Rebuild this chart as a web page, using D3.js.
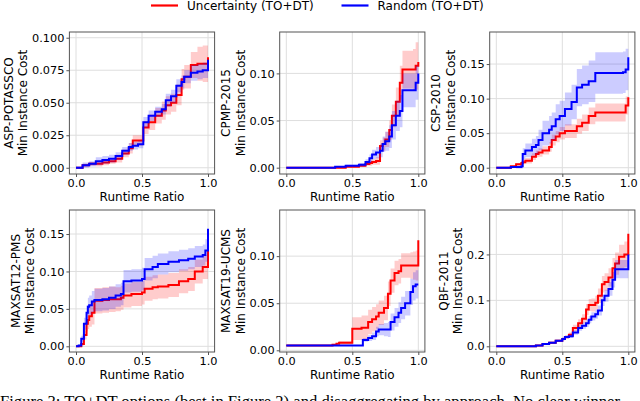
<!DOCTYPE html>
<html>
<head>
<meta charset="utf-8">
<script src="https://cdn.jsdelivr.net/npm/d3@7"></script>
<style>
body { margin: 0; background: #fff; }
svg { display: block; font-family: "DejaVu Sans", sans-serif; }
</style>
</head>
<body>
<svg id="chart" width="640" height="401"></svg>
<script>
// --- data (runtime ratio vs min instance cost) ---
const seriesNames = ["Uncertainty (TO+DT)", "Random (TO+DT)"];
const panelNames = ["ASP-POTASSCO", "CPMP-2015", "CSP-2010", "MAXSAT12-PMS", "MAXSAT19-UCMS", "QBF-2011"];
const xTicks = [0, 0.5, 1];

// ASP-POTASSCO
const aspX = [0, 0.05, 0.1, 0.15, 0.2, 0.25, 0.3, 0.35, 0.4, 0.43, 0.47, 0.51, 0.55, 0.6, 0.65, 0.68, 0.72, 0.76, 0.8, 0.82, 0.87, 0.92, 0.96, 1.0];
const aspUnc = [0, 0.002, 0.003, 0.003, 0.004, 0.005, 0.007, 0.011, 0.015, 0.021, 0.021, 0.031, 0.035, 0.040, 0.044, 0.048, 0.050, 0.056, 0.068, 0.070, 0.079, 0.080, 0.080, 0.085];
const aspUncBand = [0.0005, 0.001, 0.0015, 0.002, 0.002, 0.002, 0.003, 0.003, 0.004, 0.004, 0.004, 0.005, 0.006, 0.006, 0.007, 0.007, 0.007, 0.008, 0.008, 0.009, 0.010, 0.013, 0.014, 0.013];
const aspRnd = [0, 0.002, 0.003, 0.005, 0.006, 0.007, 0.009, 0.013, 0.016, 0.017, 0.018, 0.035, 0.040, 0.043, 0.045, 0.052, 0.055, 0.063, 0.066, 0.070, 0.073, 0.074, 0.075, 0.083];
const aspRndBand = [0.001, 0.002, 0.002, 0.003, 0.003, 0.003, 0.003, 0.003, 0.003, 0.003, 0.003, 0.004, 0.004, 0.004, 0.004, 0.005, 0.005, 0.005, 0.005, 0.005, 0.006, 0.006, 0.006, 0.006];

// CPMP-2015
const cpmpX = [0, 0.1, 0.2, 0.3, 0.37, 0.45, 0.55, 0.6, 0.63, 0.65, 0.68, 0.71, 0.73, 0.75, 0.78, 0.8, 0.83, 0.86, 0.88, 0.92, 0.96, 0.98, 1.0];
const cpmpUnc = [0, 0, 0, 0, 0, 0.001, 0.002, 0.004, 0.005, 0.006, 0.007, 0.023, 0.025, 0.03, 0.04, 0.055, 0.07, 0.09, 0.104, 0.104, 0.104, 0.108, 0.112];
const cpmpUncBand = [0, 0, 0, 0, 0, 0.0005, 0.001, 0.002, 0.003, 0.003, 0.004, 0.006, 0.007, 0.008, 0.01, 0.012, 0.015, 0.018, 0.02, 0.02, 0.022, 0.025, 0.025];
const cpmpRnd = [0, 0, 0, 0, 0.001, 0.002, 0.003, 0.006, 0.01, 0.014, 0.016, 0.018, 0.025, 0.028, 0.033, 0.045, 0.055, 0.06, 0.082, 0.082, 0.082, 0.09, 0.1];
const cpmpRndBand = [0, 0, 0, 0, 0.0005, 0.001, 0.002, 0.003, 0.004, 0.005, 0.006, 0.007, 0.008, 0.01, 0.012, 0.015, 0.016, 0.017, 0.018, 0.018, 0.018, 0.018, 0.018];

// CSP-2010
const cspX = [0, 0.11, 0.15, 0.19, 0.2, 0.22, 0.27, 0.3, 0.32, 0.35, 0.4, 0.42, 0.45, 0.48, 0.52, 0.57, 0.61, 0.65, 0.7, 0.75, 0.8, 0.9, 0.96, 0.98, 1.0];
const cspUnc = [0, 0.002, 0.005, 0.007, 0.008, 0.01, 0.016, 0.02, 0.022, 0.025, 0.03, 0.04, 0.045, 0.05, 0.053, 0.053, 0.06, 0.065, 0.075, 0.08, 0.08, 0.08, 0.08, 0.09, 0.102];
const cspUncBand = [0, 0.001, 0.002, 0.003, 0.003, 0.004, 0.005, 0.005, 0.006, 0.006, 0.007, 0.008, 0.008, 0.009, 0.01, 0.01, 0.011, 0.012, 0.012, 0.013, 0.013, 0.013, 0.013, 0.013, 0.013];
const cspRnd = [0, 0.001, 0.001, 0.002, 0.02, 0.025, 0.03, 0.033, 0.04, 0.05, 0.055, 0.06, 0.07, 0.075, 0.085, 0.095, 0.116, 0.12, 0.125, 0.137, 0.137, 0.137, 0.138, 0.142, 0.16];
const cspRndBand = [0, 0.001, 0.002, 0.003, 0.008, 0.01, 0.012, 0.013, 0.015, 0.018, 0.02, 0.02, 0.022, 0.022, 0.024, 0.025, 0.027, 0.028, 0.03, 0.03, 0.03, 0.03, 0.03, 0.03, 0.027];

// MAXSAT12-PMS
const pmsX = [0, 0.02, 0.04, 0.06, 0.08, 0.09, 0.1, 0.12, 0.14, 0.2, 0.25, 0.3, 0.34, 0.36, 0.42, 0.5, 0.52, 0.58, 0.62, 0.7, 0.78, 0.85, 0.9, 0.96, 0.98, 1.0];
const pmsUnc = [0, 0, 0.003, 0.015, 0.03, 0.035, 0.04, 0.045, 0.061, 0.062, 0.063, 0.063, 0.065, 0.068, 0.07, 0.072, 0.077, 0.079, 0.08, 0.082, 0.087, 0.09, 0.1, 0.106, 0.106, 0.13];
const pmsUncBand = [0, 0, 0.002, 0.006, 0.01, 0.012, 0.014, 0.016, 0.017, 0.017, 0.017, 0.016, 0.016, 0.016, 0.016, 0.016, 0.016, 0.016, 0.016, 0.016, 0.016, 0.016, 0.016, 0.016, 0.016, 0.017];
const pmsRnd = [0, 0.001, 0.01, 0.03, 0.045, 0.053, 0.055, 0.06, 0.062, 0.063, 0.065, 0.068, 0.07, 0.087, 0.088, 0.09, 0.103, 0.106, 0.11, 0.113, 0.115, 0.117, 0.12, 0.122, 0.128, 0.157];
const pmsRndBand = [0, 0.001, 0.004, 0.008, 0.01, 0.012, 0.013, 0.014, 0.015, 0.015, 0.015, 0.015, 0.015, 0.015, 0.015, 0.015, 0.015, 0.015, 0.014, 0.014, 0.014, 0.014, 0.014, 0.014, 0.015, 0.017];

// MAXSAT19-UCMS
const ucmsX = [0, 0.32, 0.35, 0.38, 0.4, 0.5, 0.57, 0.58, 0.62, 0.65, 0.68, 0.7, 0.74, 0.77, 0.79, 0.82, 0.85, 0.87, 0.9, 0.94, 0.96, 0.98, 1.0];
const ucmsUnc = [0.005, 0.005, 0.006, 0.007, 0.008, 0.023, 0.024, 0.024, 0.03, 0.033, 0.036, 0.04, 0.045, 0.06, 0.074, 0.082, 0.084, 0.09, 0.09, 0.09, 0.09, 0.09, 0.117];
const ucmsUncBand = [0, 0, 0.001, 0.001, 0.002, 0.012, 0.013, 0.013, 0.013, 0.013, 0.013, 0.013, 0.013, 0.013, 0.013, 0.013, 0.013, 0.013, 0.013, 0.014, 0.015, 0.016, 0.022];
const ucmsRnd = [0.005, 0.005, 0.005, 0.005, 0.005, 0.005, 0.005, 0.011, 0.013, 0.015, 0.02, 0.022, 0.022, 0.022, 0.03, 0.035, 0.04, 0.045, 0.05, 0.062, 0.068, 0.07, 0.07];
const ucmsRndBand = [0, 0, 0, 0, 0, 0, 0, 0.002, 0.003, 0.004, 0.005, 0.006, 0.007, 0.008, 0.009, 0.01, 0.011, 0.012, 0.013, 0.014, 0.015, 0.015, 0.015];

// QBF-2011
const qbfX = [0, 0.25, 0.3, 0.35, 0.4, 0.45, 0.5, 0.52, 0.55, 0.58, 0.62, 0.65, 0.68, 0.7, 0.72, 0.75, 0.77, 0.8, 0.82, 0.85, 0.88, 0.9, 0.93, 0.97, 1.0];
const qbfUnc = [0, 0, 0.002, 0.005, 0.008, 0.012, 0.016, 0.02, 0.025, 0.04, 0.05, 0.06, 0.08, 0.09, 0.09, 0.095, 0.11, 0.135, 0.14, 0.15, 0.17, 0.18, 0.195, 0.2, 0.245];
const qbfUncBand = [0, 0, 0.001, 0.001, 0.002, 0.002, 0.003, 0.004, 0.005, 0.007, 0.009, 0.01, 0.012, 0.013, 0.014, 0.015, 0.016, 0.018, 0.019, 0.02, 0.022, 0.024, 0.026, 0.028, 0.035];
const qbfRnd = [0, 0, 0.002, 0.005, 0.008, 0.012, 0.016, 0.02, 0.022, 0.03, 0.04, 0.045, 0.05, 0.058, 0.065, 0.07, 0.078, 0.1, 0.11, 0.125, 0.145, 0.168, 0.168, 0.168, 0.2];
const qbfRndBand = [0, 0, 0.001, 0.001, 0.002, 0.002, 0.003, 0.003, 0.004, 0.005, 0.006, 0.007, 0.008, 0.008, 0.009, 0.01, 0.011, 0.012, 0.013, 0.015, 0.017, 0.02, 0.02, 0.02, 0.022];

// y tick values per panel
const aspTicks = [0, 0.025, 0.05, 0.075, 0.1];
const cpmpTicks = [0, 0.05, 0.1];
const cspTicks = [0, 0.05, 0.1, 0.15];
const pmsTicks = [0, 0.05, 0.1, 0.15];
const ucmsTicks = [0, 0.05, 0.1];
const qbfTicks = [0, 0.1, 0.2];

const panels = [
    {x: aspX, unc: aspUnc, uncBand: aspUncBand, rnd: aspRnd, rndBand: aspRndBand, ticks: aspTicks, fmt: ".3f", domain: [-0.0048, 0.1044]},
    {x: cpmpX, unc: cpmpUnc, uncBand: cpmpUncBand, rnd: cpmpRnd, rndBand: cpmpRndBand, ticks: cpmpTicks, fmt: ".2f", domain: [-0.0067, 0.1439]},
    {x: cspX, unc: cspUnc, uncBand: cspUncBand, rnd: cspRnd, rndBand: cspRndBand, ticks: cspTicks, fmt: ".2f", domain: [-0.0091, 0.1964]},
    {x: pmsX, unc: pmsUnc, uncBand: pmsUncBand, rnd: pmsRnd, rndBand: pmsRndBand, ticks: pmsTicks, fmt: ".2f", domain: [-0.0076, 0.1821]},
    {x: ucmsX, unc: ucmsUnc, uncBand: ucmsUncBand, rnd: ucmsRnd, rndBand: ucmsRndBand, ticks: ucmsTicks, fmt: ".2f", domain: [-0.0018, 0.149]},
    {x: qbfX, unc: qbfUnc, uncBand: qbfUncBand, rnd: qbfRnd, rndBand: qbfRndBand, ticks: qbfTicks, fmt: ".1f", domain: [-0.0124, 0.2967]}
];
panels.forEach((p, i) => p.name = panelNames[i]);

// --- layout ---
const colLeft = [69.4, 279.7, 489.7];
const rowTop = [32, 210];
const plotW = 145.2, plotH = 142;
const colors = ["#ff0000", "#0000ff"];
const tickFont = 11.3, labelFont = 12;

const svg = d3.select("#chart");

// legend
const legendX = [151, 341.5];
const legendY = 6.5;
const legend = svg.append("g").attr("class", "legend");
seriesNames.forEach((name, i) => {
    legend.append("line")
        .attr("x1", legendX[i]).attr("x2", legendX[i] + 27)
        .attr("y1", legendY - 1).attr("y2", legendY - 1)
        .attr("stroke", colors[i]).attr("stroke-width", 2.2);
    legend.append("text")
        .attr("x", legendX[i] + 36).attr("y", legendY).attr("dy", "0.32em")
        .attr("font-size", labelFont).attr("fill", "#000")
        .text(name);
});

panels.forEach((p, i) => {
    const left = colLeft[i % 3], top = rowTop[Math.floor(i / 3)];
    const g = svg.append("g").attr("transform", `translate(${left},${top})`);

    const x = d3.scaleLinear().domain([-0.05, 1.05]).range([0, plotW]);
    const y = d3.scaleLinear().domain(p.domain).range([plotH, 0]);

    // grid
    g.append("g").selectAll("line.vgrid")
        .data(xTicks).enter().append("line")
        .attr("x1", d => x(d)).attr("x2", d => x(d))
        .attr("y1", 0).attr("y2", plotH)
        .attr("stroke", "#dedede").attr("stroke-width", 1);
    g.append("g").selectAll("line.hgrid")
        .data(p.ticks).enter().append("line")
        .attr("x1", 0).attr("x2", plotW)
        .attr("y1", d => y(d)).attr("y2", d => y(d))
        .attr("stroke", "#dedede").attr("stroke-width", 1);

    const series = [
        {mean: p.unc, band: p.uncBand, color: colors[0]},
        {mean: p.rnd, band: p.rndBand, color: colors[1]}
    ];
    series.forEach(s => {
        const pts = p.x.map((xv, k) => ({x: xv, m: s.mean[k], b: s.band[k]}));
        const area = d3.area()
            .curve(d3.curveStepAfter)
            .x(d => x(d.x))
            .y0(d => y(d.m - d.b))
            .y1(d => y(d.m + d.b));
        const line = d3.line()
            .curve(d3.curveStepAfter)
            .x(d => x(d.x))
            .y(d => y(d.m));
        g.append("path").datum(pts)
            .attr("d", area)
            .attr("fill", s.color).attr("fill-opacity", 0.2);
        g.append("path").datum(pts)
            .attr("d", line)
            .attr("fill", "none").attr("stroke", s.color)
            .attr("stroke-width", 2).attr("stroke-linejoin", "miter");
    });

    // frame
    g.append("rect")
        .attr("width", plotW).attr("height", plotH)
        .attr("fill", "none").attr("stroke", "#555").attr("stroke-width", 1);

    // axes
    const xAxis = g.append("g")
        .attr("transform", `translate(0,${plotH})`)
        .call(d3.axisBottom(x).tickValues(xTicks).tickFormat(d3.format(".1f")).tickSize(3).tickPadding(2));
    const yAxis = g.append("g")
        .call(d3.axisLeft(y).tickValues(p.ticks).tickFormat(d3.format(p.fmt)).tickSize(3).tickPadding(2));
    [xAxis, yAxis].forEach(a => {
        a.select(".domain").remove();
        a.selectAll("line").attr("stroke", "#555");
        a.selectAll("text").attr("font-size", tickFont).attr("font-family", "DejaVu Sans").attr("fill", "#000");
    });

    // x label
    g.append("text")
        .attr("x", plotW / 2).attr("y", plotH + 23).attr("dy", "0.35em")
        .attr("text-anchor", "middle").attr("font-size", labelFont)
        .text("Runtime Ratio");

    // y label, two lines
    const tickLeft = yAxis.node().getBBox().x;
    const line2 = tickLeft - 9;
    const line1 = line2 - 14.3;
    [[p.name, line1], ["Min Instance Cost", line2]].forEach(([txt, cx]) => {
        g.append("text")
            .attr("transform", `translate(${cx},${plotH / 2}) rotate(-90)`)
            .attr("dy", "0.35em")
            .attr("text-anchor", "middle").attr("font-size", labelFont)
            .text(txt);
    });
});

// figure caption, cut off by the bottom edge
svg.append("text")
    .attr("x", 0).attr("y", 407)
    .attr("font-family", "Liberation Serif, serif").attr("font-size", 16.6)
    .attr("fill", "#000")
    .text("Figure 3: TO+DT options (best in Figure 2) and disaggregating by approach. No clear winner");
</script>
</body>
</html>
